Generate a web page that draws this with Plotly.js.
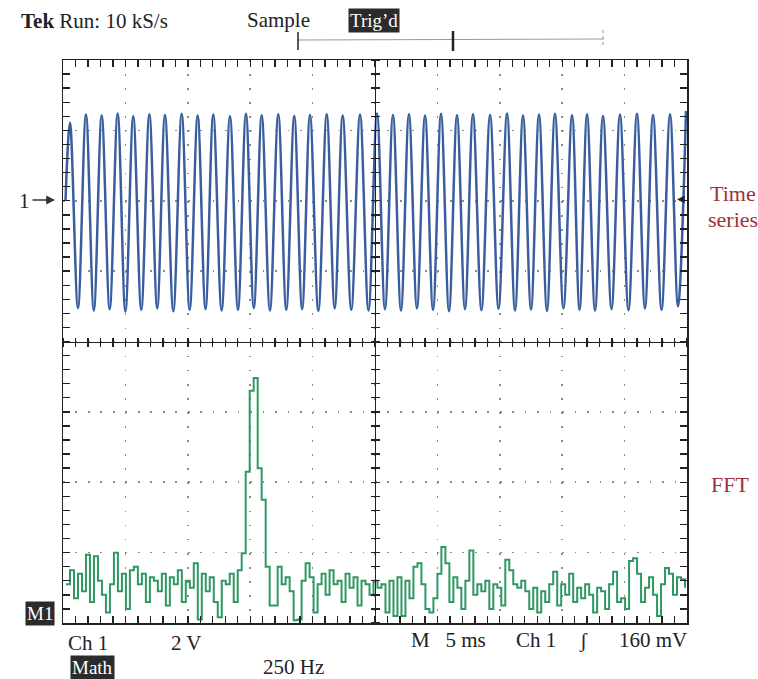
<!DOCTYPE html>
<html><head><meta charset="utf-8">
<script src="https://cdn.plot.ly/plotly-3.0.1.min.js"></script>
<style>html,body{margin:0;padding:0;background:#fff}#chart{width:758px;height:679px}</style>
</head><body><div id="chart"></div>
<script>
const tsTime = [0.20, 0.56, 1.20, 1.84, 2.47, 3.10, 3.74, 4.38, 5.00, 5.63, 6.27, 6.92, 7.55, 8.17, 8.84, 9.51, 10.15, 10.79, 11.42, 12.04, 12.71, 13.38, 14.02, 14.66, 15.29, 15.92, 16.58, 17.25, 17.89, 18.53, 19.16, 19.79, 20.46, 21.13, 21.77, 22.41, 23.10, 23.80, 24.48, 25.16, 25.80, 26.44, 27.08, 27.72, 28.36, 29.01, 29.65, 30.29, 30.93, 31.57, 32.21, 32.85, 33.53, 34.22, 34.90, 35.58, 36.22, 36.86, 37.50, 38.14, 38.78, 39.42, 40.10, 40.79, 41.39, 41.99, 42.63, 43.27, 43.95, 44.63, 45.31, 45.99, 46.63, 47.28, 47.96, 48.64, 49.28, 49.92];
const tsVolt = [0.00, 2.22, -3.05, 2.45, -3.12, 2.42, -3.08, 2.48, -3.15, 2.40, -3.10, 2.46, -3.06, 2.44, -3.14, 2.47, -3.10, 2.42, -3.08, 2.45, -3.12, 2.40, -3.10, 2.47, -3.05, 2.43, -3.12, 2.46, -3.10, 2.41, -3.08, 2.44, -3.13, 2.46, -3.06, 2.42, -3.10, 2.45, -3.12, 2.48, -3.08, 2.44, -3.12, 2.46, -3.06, 2.42, -3.10, 2.47, -3.14, 2.43, -3.08, 2.46, -3.11, 2.44, -3.07, 2.48, -3.12, 2.42, -3.09, 2.45, -3.13, 2.47, -3.06, 2.43, -3.10, 2.46, -3.12, 2.41, -3.08, 2.45, -3.11, 2.47, -3.06, 2.44, -3.10, 2.46, -3.00, 2.55];

// FFT (Math): magnitude in screen divisions above the bottom, bins of 16 Hz
const fftStartHz = 12;
const fftBinHz = 16;
const fftAmp = [0.55, 0.75, 0.35, 0.70, 0.45, 0.97, 0.30, 0.95, 0.60, 0.40, 0.15, 0.55, 1.00, 0.45, 0.70, 0.20, 0.75, 0.80, 0.55, 0.70, 0.30, 0.65, 0.60, 0.45, 0.70, 0.25, 0.65, 0.55, 0.75, 0.30, 0.60, 0.50, 0.85, 0.05, 0.70, 0.45, 0.65, 0.30, 0.08, 0.60, 0.55, 0.70, 0.30, 0.75, 0.99, 2.15, 3.30, 3.48, 2.20, 1.75, 0.80, 0.25, 0.25, 0.80, 0.55, 0.65, 0.45, 0.04, 0.05, 0.60, 0.85, 0.65, 0.15, 0.55, 0.70, 0.40, 0.75, 0.55, 0.60, 0.30, 0.70, 0.50, 0.65, 0.25, 0.60, 0.55, 0.40, 0.60, 0.50, 0.55, 0.15, 0.60, 0.10, 0.65, 0.10, 0.60, 0.35, 0.80, 0.85, 0.55, 0.20, 0.15, 0.35, 0.70, 1.08, 0.85, 0.30, 0.65, 0.50, 0.20, 0.60, 1.03, 0.40, 0.55, 0.45, 0.60, 0.20, 0.55, 0.50, 0.25, 0.90, 0.75, 0.55, 0.50, 0.60, 0.45, 0.20, 0.50, 0.15, 0.45, 0.30, 0.55, 0.73, 0.25, 0.55, 0.40, 0.70, 0.30, 0.50, 0.35, 0.55, 0.40, 0.15, 0.50, 0.45, 0.20, 0.55, 0.73, 0.30, 0.35, 0.20, 0.88, 0.92, 0.70, 0.30, 0.50, 0.65, 0.40, 0.10, 0.55, 0.78, 0.70, 0.40, 0.65, 0.62, 0.50];

const L = 63, T = 60, PW = 624, PH = 563;
const px = x => (x - L) / PW;
const py = y => (T + PH - y) / PH;
const serif = 'Liberation Serif';
const ink = '#222';
const red = '#9e3238';

const traces = [
  {x: tsTime, y: tsVolt, xaxis: 'x', yaxis: 'y', mode: 'lines',
   line: {color: '#3b5d9e', width: 2.5, shape: 'spline', smoothing: 1}, hoverinfo: 'skip', showlegend: false},
  {y: fftAmp, x0: fftStartHz, dx: fftBinHz, xaxis: 'x2', yaxis: 'y2', mode: 'lines',
   line: {color: '#2e9862', width: 2, shape: 'hv'}, hoverinfo: 'skip', showlegend: false},
  {x: [], y: [], xaxis: 'x3', yaxis: 'y3', mode: 'lines', hoverinfo: 'skip', showlegend: false}
];

const edge = {showline: true, linecolor: ink, linewidth: 1.5, mirror: 'ticks', ticks: 'inside',
  ticklen: 7, tickwidth: 1.4, tickcolor: ink, showticklabels: false, zeroline: false,
  gridcolor: '#8a8a8a', gridwidth: 1.7, fixedrange: true};
const center = {anchor: 'free', position: 0.5, showline: true, linecolor: ink, linewidth: 1.2,
  ticks: 'outside', ticklen: 4, tickwidth: 1.4, tickcolor: ink, showticklabels: false,
  showgrid: false, zeroline: false, fixedrange: true};

function ann(x, y, text, o) {
  return Object.assign({xref: 'paper', yref: 'paper', x: px(x), y: py(y), text: text,
    showarrow: false, xanchor: 'left', yanchor: 'middle',
    font: {family: serif, size: 21, color: ink}}, o || {});
}
const boxFont = {family: serif, size: 19, color: '#fff'};
const redFont = {family: serif, size: 22, color: red};

const layout = {
  width: 758, height: 679,
  margin: {l: L, r: 758 - L - PW, t: T, b: 679 - T - PH, pad: 0},
  paper_bgcolor: '#fff', plot_bgcolor: '#fff',
  xaxis: Object.assign({}, edge, {range: [0, 50], dtick: 5, tick0: 0, showgrid: true,
    griddash: '1.7px,12.38px',
    minor: {dtick: 1, ticks: 'inside', ticklen: 7, tickwidth: 1.4, tickcolor: ink, showgrid: false}}),
  yaxis: Object.assign({}, edge, {range: [-12, 4], dtick: 2, tick0: 0, showgrid: true,
    griddash: '1.7px,10.78px',
    minor: {dtick: 0.4, ticks: 'inside', ticklen: 7, tickwidth: 1.4, tickcolor: ink, showgrid: false}}),
  xaxis2: Object.assign({}, center, {overlaying: 'x', side: 'bottom', range: [0, 2500], dtick: 50, tick0: 0}),
  xaxis3: Object.assign({}, center, {overlaying: 'x', side: 'top', showline: false, range: [0, 2500], dtick: 50, tick0: 0}),
  yaxis2: Object.assign({}, center, {overlaying: 'y', side: 'left', range: [0, 8], dtick: 0.2, tick0: 0}),
  yaxis3: Object.assign({}, center, {overlaying: 'y', side: 'right', showline: false, range: [0, 8], dtick: 0.2, tick0: 0}),
  shapes: [
    {type: 'line', xref: 'paper', yref: 'paper', x0: px(298), x1: px(604), y0: py(40), y1: py(39), line: {color: '#999', width: 1}},
    {type: 'line', xref: 'paper', yref: 'paper', x0: px(298), x1: px(298), y0: py(32), y1: py(50), line: {color: ink, width: 1.5}},
    {type: 'line', xref: 'paper', yref: 'paper', x0: px(453), x1: px(453), y0: py(31), y1: py(51), line: {color: ink, width: 2.5}},
    {type: 'line', xref: 'paper', yref: 'paper', x0: px(603), x1: px(603), y0: py(30), y1: py(46), line: {color: '#999', width: 1, dash: 'dot'}}
  ],
  annotations: [
    ann(19, 21, '<b>Tek</b> Run: 10 kS/s'),
    ann(245, 20, 'Sample'),
    ann(374, 20, 'Trig’d', {xanchor: 'center', bgcolor: '#2b2b2b', borderpad: 1, font: boxFont}),
    ann(17, 201, '1'),
    {xref: 'paper', yref: 'paper', x: px(55), y: py(200), ax: -24, ay: 0, text: '', showarrow: true,
     arrowhead: 2, arrowsize: 1.1, arrowwidth: 1.6, arrowcolor: '#333'},
    ann(733, 193, 'Time', {xanchor: 'center', font: redFont}),
    ann(733, 219, 'series', {xanchor: 'center', font: redFont}),
    ann(730, 484, 'FFT', {xanchor: 'center', font: redFont}),
    ann(687, 198, '◀', {xanchor: 'right', font: {family: 'DejaVu Sans', size: 10, color: ink}}),
    ann(40, 613, 'M1', {xanchor: 'center', bgcolor: '#2b2b2b', borderpad: 1, font: boxFont}),
    ann(66, 643, 'Ch 1'),
    ann(169, 643, '2 V'),
    ann(409, 640, 'M&nbsp;&nbsp;&nbsp;5 ms'),
    ann(514, 640, 'Ch 1'),
    ann(577, 640, 'ʃ'),
    ann(617, 640, '160 mV'),
    ann(92, 667, 'Math', {xanchor: 'center', bgcolor: '#2b2b2b', borderpad: 1, font: boxFont}),
    ann(261, 667, '250 Hz')
  ]
};

Plotly.newPlot('chart', traces, layout, {displayModeBar: false, staticPlot: true});
</script>
</body></html>
